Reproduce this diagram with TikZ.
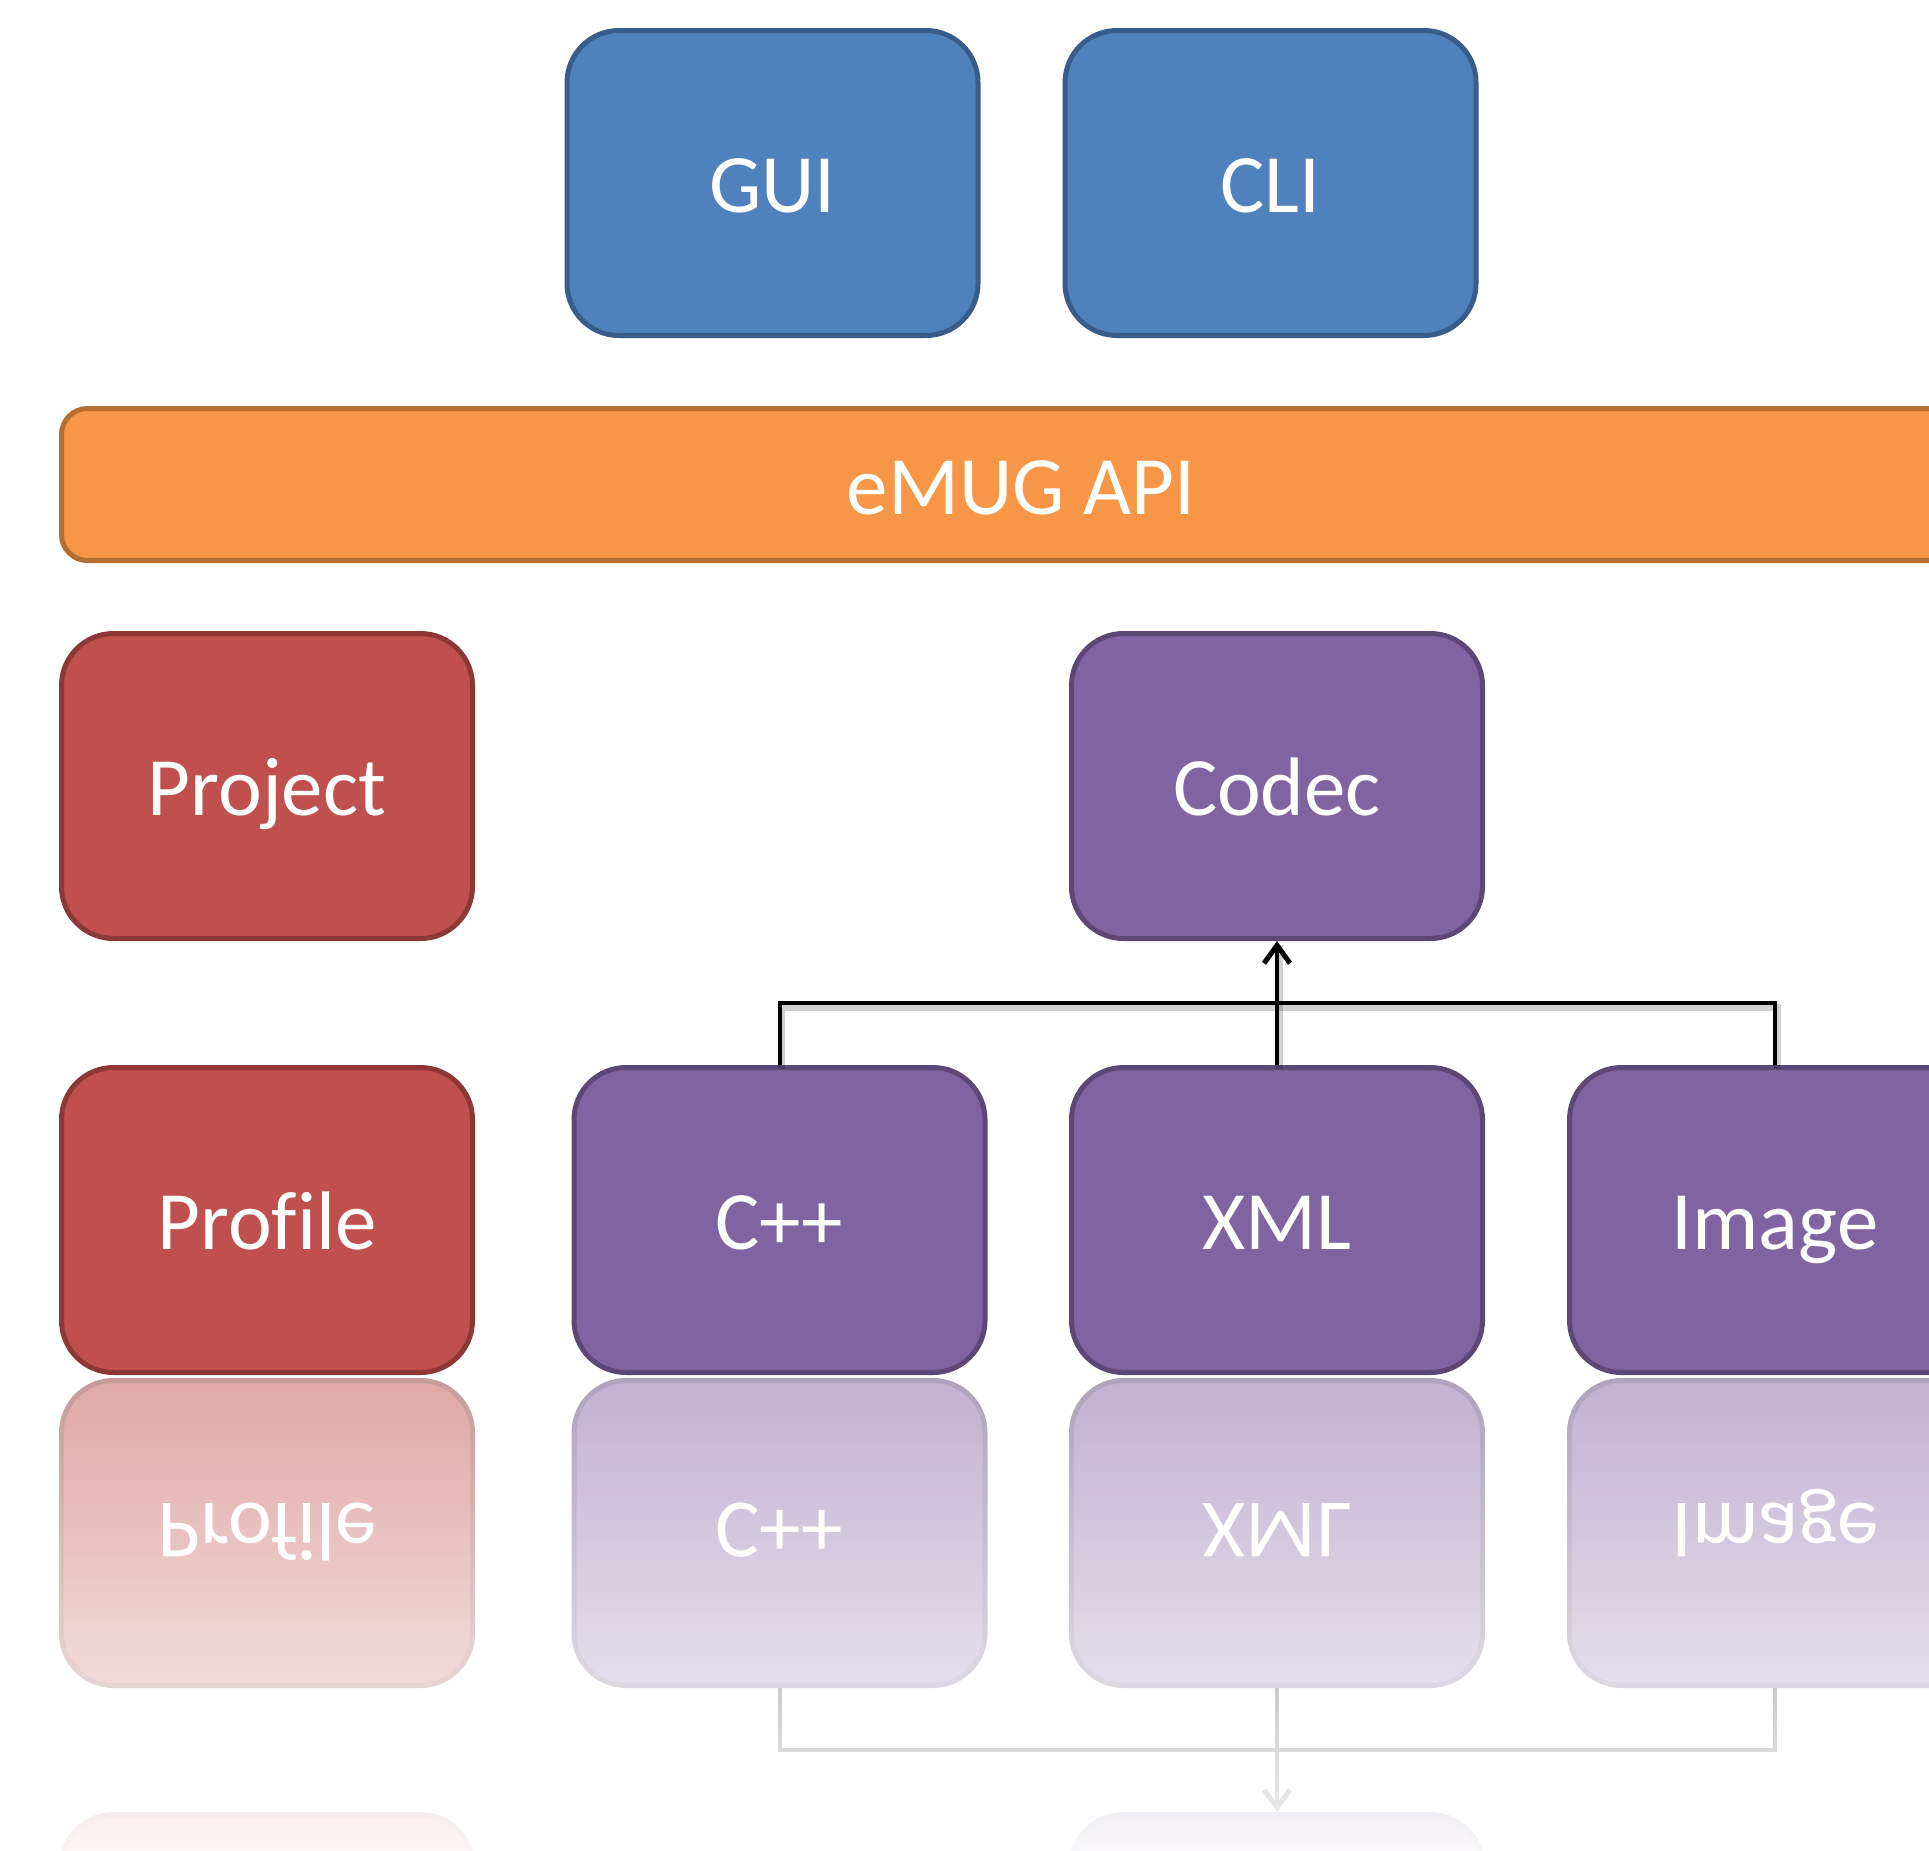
\documentclass[tikz,border=0pt]{standalone}
\usepackage{fontspec}
\setmainfont{Carlito}[Ligatures=NoCommon]
\usepackage{graphicx}
\usetikzlibrary{arrows.meta,fadings}

\definecolor{bluefill}{HTML}{4F81BD}
\definecolor{blueline}{HTML}{385D8A}
\definecolor{orangefill}{HTML}{F79646}
\definecolor{orangeline}{HTML}{B66D31}
\definecolor{redfill}{HTML}{C0504D}
\definecolor{redline}{HTML}{8C3836}
\definecolor{purplefill}{HTML}{8064A2}
\definecolor{purpleline}{HTML}{5C4776}

% white veil that turns the mirrored row into a fading reflection
\tikzfading[name=mirrorfade, top color=transparent!50, bottom color=transparent!0]

\tikzset{
  box/.style={draw, rounded corners=52pt, line width=5pt,
    minimum width=411pt, minimum height=305pt, inner sep=0pt,
    text=white, font=\fontsize{83pt}{100pt}\selectfont,
    text height=59pt, text depth=0pt},
  bluebox/.style={box, fill=bluefill, draw=blueline},
  redbox/.style={box, fill=redfill, draw=redline},
  purplebox/.style={box, fill=purplefill, draw=purpleline},
  apibar/.style={box, fill=orangefill, draw=orangeline, rounded corners=26pt,
    minimum width=1919pt, minimum height=152pt},
  mirrored/.style={text height=0pt, text depth=59pt},
  link/.style={line width=4pt, draw=black},
  linkshadow/.style={line width=7pt, draw=black, opacity=0.18,
    transform canvas={shift={(2pt,-4pt)}}},
  opentip/.style={-{Straight Barb[length=18pt,width=26pt,line width=5pt]}},
}

\begin{document}
\begin{tikzpicture}[x=1pt, y=-1pt]
\useasboundingbox (0,0) rectangle (1929,1850);
\clip (0,0) rectangle (1929,1850);

% front ends
\node[bluebox] (gui) at (772.5,183) {GUI};
\node[bluebox] (cli) at (1270.5,183) {CLI};

% API layer
\node[apibar] (api) at (1021,484.5) {eMUG API};

% core components
\node[redbox] (project) at (267,786) {Project};
\node[purplebox] (codec) at (1277,786) {Codec};

\node[redbox] (profile) at (267,1220) {Profile};
\node[purplebox] (cpp) at (779.5,1220) {C++};
\node[purplebox] (xml) at (1277,1220) {XML};
\node[purplebox] (img) at (1775,1220) {Image};

% codec implementations
\coordinate (bus) at (1277,1003);
\draw[linkshadow] (cpp.north) -- (cpp.north |- bus) -| (img.north);
\draw[linkshadow] (xml.north) -- (codec.south);
\draw[link] (cpp.north) -- (cpp.north |- bus) -| (img.north);
\draw[link, opentip] (xml.north) -- (codec.south);

% mirrored copy of the lower rows
\node[redbox, mirrored] (profileR) at (267,1533) {\scalebox{1}[-1]{Profile}};
\node[purplebox, mirrored] (cppR) at (779.5,1533) {\scalebox{1}[-1]{C++}};
\node[purplebox, mirrored] (xmlR) at (1277,1533) {\scalebox{1}[-1]{XML}};
\node[purplebox, mirrored] (imgR) at (1775,1533) {\scalebox{1}[-1]{Image}};
\node[redbox] (projectR) at (267,1967) {};
\node[purplebox] (codecR) at (1277,1967) {};

\coordinate (busR) at (1277,1750);
\draw[link] (cppR.south) -- (cppR.south |- busR) -| (imgR.south);
\draw[link, opentip] (xmlR.south) -- (codecR.north);

\fill[white, path fading=mirrorfade] (-100,1376.5) rectangle (2100,1900);
\end{tikzpicture}
\end{document}
